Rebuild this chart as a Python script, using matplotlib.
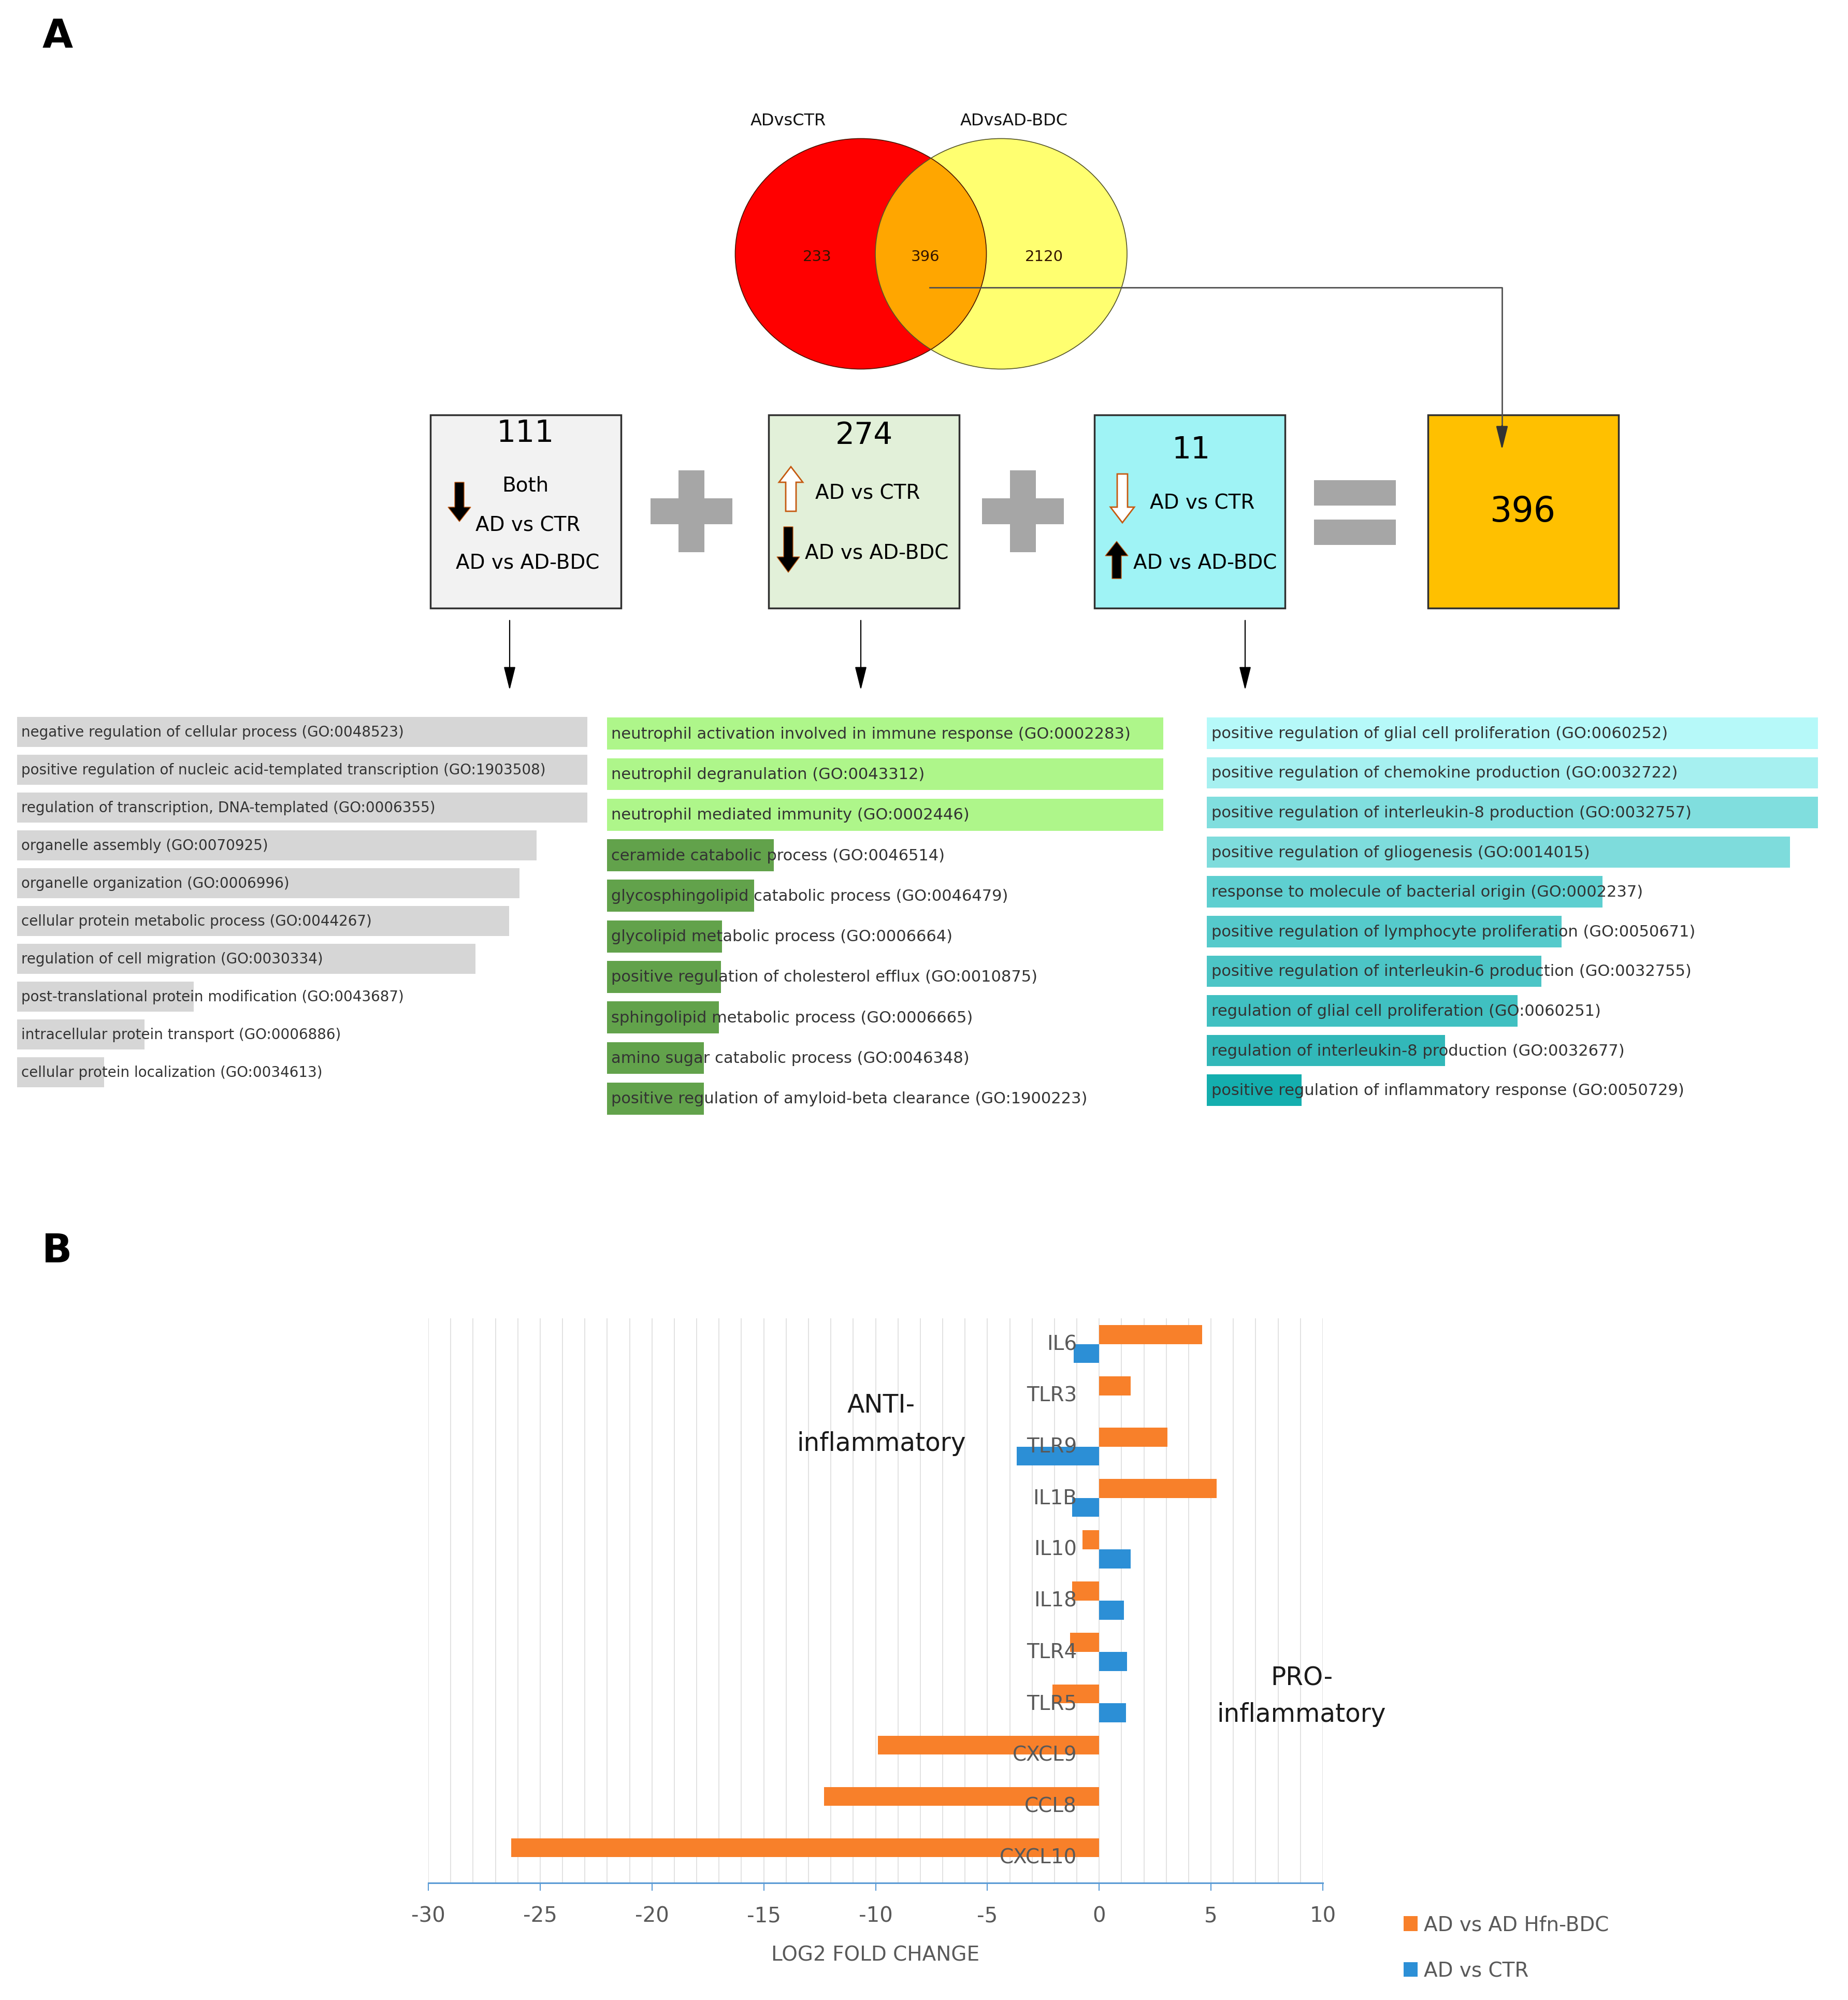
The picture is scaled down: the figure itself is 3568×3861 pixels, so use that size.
import numpy as np
import matplotlib
matplotlib.use("Agg")
import matplotlib.pyplot as plt
from matplotlib.patches import Ellipse, Rectangle, FancyArrow

plt.rcParams["axes.unicode_minus"] = False

W, H = 3568, 3862

# Venn diagram
venn_sets = ["ADvsCTR", "ADvsAD-BDC"]
venn_counts = [233, 396, 2120]

# summary boxes
box_counts = [111, 274, 11]
box_total = 396

# GO terms for each group (bar length relative to top term)
go_both = [
    "negative regulation of cellular process (GO:0048523)",
    "positive regulation of nucleic acid-templated transcription (GO:1903508)",
    "regulation of transcription, DNA-templated (GO:0006355)",
    "organelle assembly (GO:0070925)",
    "organelle organization (GO:0006996)",
    "cellular protein metabolic process (GO:0044267)",
    "regulation of cell migration (GO:0030334)",
    "post-translational protein modification (GO:0043687)",
    "intracellular protein transport (GO:0006886)",
    "cellular protein localization (GO:0034613)",
]
go_both_len = [1.0, 1.0, 1.0, 0.911, 0.881, 0.863, 0.804, 0.310, 0.224, 0.153]

go_up = [
    "neutrophil activation involved in immune response (GO:0002283)",
    "neutrophil degranulation (GO:0043312)",
    "neutrophil mediated immunity (GO:0002446)",
    "ceramide catabolic process (GO:0046514)",
    "glycosphingolipid catabolic process (GO:0046479)",
    "glycolipid metabolic process (GO:0006664)",
    "positive regulation of cholesterol efflux (GO:0010875)",
    "sphingolipid metabolic process (GO:0006665)",
    "amino sugar catabolic process (GO:0046348)",
    "positive regulation of amyloid-beta clearance (GO:1900223)",
]
go_up_len = [1.0, 1.0, 1.0, 0.300, 0.265, 0.207, 0.205, 0.201, 0.174, 0.174]

go_down = [
    "positive regulation of glial cell proliferation (GO:0060252)",
    "positive regulation of chemokine production (GO:0032722)",
    "positive regulation of interleukin-8 production (GO:0032757)",
    "positive regulation of gliogenesis (GO:0014015)",
    "response to molecule of bacterial origin (GO:0002237)",
    "positive regulation of lymphocyte proliferation (GO:0050671)",
    "positive regulation of interleukin-6 production (GO:0032755)",
    "regulation of glial cell proliferation (GO:0060251)",
    "regulation of interleukin-8 production (GO:0032677)",
    "positive regulation of inflammatory response (GO:0050729)",
]
go_down_len = [1.0, 1.0, 1.0, 0.954, 0.648, 0.581, 0.548, 0.509, 0.390, 0.155]

# panel B: log2 fold change
genes = ["IL6", "TLR3", "TLR9", "IL1B", "IL10", "IL18", "TLR4", "TLR5", "CXCL9", "CCL8", "CXCL10"]
fc_bdc = [4.6, 1.4, 3.05, 5.25, -0.75, -1.2, -1.3, -2.1, -9.9, -12.3, -26.3]
fc_ctr = [-1.15, 0, -3.7, -1.2, 1.4, 1.1, 1.25, 1.2, 0, 0, 0]

fig = plt.figure(figsize=(W / 100, H / 100), dpi=100)

# base layer in pixel units for the diagram part
base = fig.add_axes([0, 0, 1, 1])
base.set_xlim(0, W)
base.set_ylim(H, 0)
base.axis("off")

base.text(111, 71, "A", fontsize=55, fontweight="bold", ha="center", va="center")
base.text(110, 2416, "B", fontsize=55, fontweight="bold", ha="center", va="center")

# --- Venn ---
red = Ellipse((1662, 491), 485, 445, fc="#FF0000", ec="none")
yel = Ellipse((1933, 491), 486, 445, fc="#FFFF70", ec="none")
base.add_patch(red)
base.add_patch(yel)
ov = Ellipse((1933, 491), 486, 445, fc="#FFA600", ec="none")
base.add_patch(ov)
ov.set_clip_path(red)
base.add_patch(Ellipse((1662, 491), 485, 445, fc="none", ec="#4a1500", lw=1.2))
base.add_patch(Ellipse((1933, 491), 486, 445, fc="none", ec="#55552a", lw=1.2))

base.text(1522, 233, venn_sets[0], fontsize=23, ha="center", va="center", color="#111111")
base.text(1958, 233, venn_sets[1], fontsize=23, ha="center", va="center", color="#111111")
for x, n in zip([1578, 1787, 2016], venn_counts):
    base.text(x, 496, str(n), fontsize=21, ha="center", va="center", color="#331500")

# connector from the intersection to the total box
base.plot([1795, 2900, 2900], [556, 556, 840], color="#505050", lw=2)
base.annotate("", xy=(2900, 872), xytext=(2900, 820),
              arrowprops=dict(arrowstyle="-|>,head_length=1.4,head_width=0.35",
                              color="#333333", lw=2, mutation_scale=20))

# --- boxes ---
box_x = [831, 1484, 2113, 2757]
box_fc = ["#F2F2F2", "#E2F0D9", "#9FF3F5", "#FFC000"]
for x0, fc in zip(box_x, box_fc):
    base.add_patch(Rectangle((x0, 802), 368, 373, fc=fc, ec="#303030", lw=2.5))

fs_box = 28
# box 1
base.text(1014, 836, str(box_counts[0]), fontsize=42, ha="center", va="center")
base.text(1014, 937, "Both", fontsize=fs_box, ha="center", va="center")
base.add_patch(FancyArrow(887, 932, 0, 76, width=18, head_width=44, head_length=28,
                          length_includes_head=True, fc="black", ec="#C55A11", lw=1))
base.text(1019, 1014, "AD vs CTR", fontsize=fs_box, ha="center", va="center")
base.text(1019, 1087, "AD vs AD-BDC", fontsize=fs_box, ha="center", va="center")
# box 2
base.text(1668, 840, str(box_counts[1]), fontsize=42, ha="center", va="center")
base.add_patch(FancyArrow(1527, 988, 0, -86, width=20, head_width=46, head_length=30,
                          length_includes_head=True, fc="white", ec="#C55A11", lw=2))
base.text(1675, 952, "AD vs CTR", fontsize=fs_box, ha="center", va="center")
base.add_patch(FancyArrow(1522, 1018, 0, 88, width=18, head_width=44, head_length=30,
                          length_includes_head=True, fc="black", ec="#C55A11", lw=1))
base.text(1693, 1068, "AD vs AD-BDC", fontsize=fs_box, ha="center", va="center")
# box 3
base.text(2300, 868, str(box_counts[2]), fontsize=42, ha="center", va="center")
base.add_patch(FancyArrow(2167, 916, 0, 94, width=20, head_width=46, head_length=30,
                          length_includes_head=True, fc="white", ec="#C55A11", lw=2))
base.text(2321, 971, "AD vs CTR", fontsize=fs_box, ha="center", va="center")
base.add_patch(FancyArrow(2156, 1118, 0, -72, width=18, head_width=44, head_length=28,
                          length_includes_head=True, fc="black", ec="#C55A11", lw=1))
base.text(2327, 1087, "AD vs AD-BDC", fontsize=fs_box, ha="center", va="center")
# box 4
base.text(2940, 988, str(box_total), fontsize=48, ha="center", va="center")

# plus and equals signs
sign_c = "#A6A6A6"
for cx in [1335, 1975]:
    base.add_patch(Rectangle((cx - 25, 909), 50, 158, fc=sign_c, ec="none"))
    base.add_patch(Rectangle((cx - 79, 963), 158, 50, fc=sign_c, ec="none"))
base.add_patch(Rectangle((2537, 928), 158, 49, fc=sign_c, ec="none"))
base.add_patch(Rectangle((2537, 1004), 158, 49, fc=sign_c, ec="none"))

# arrows down to GO lists
for x in [984, 1662, 2404]:
    base.annotate("", xy=(x, 1336), xytext=(x, 1196),
                  arrowprops=dict(arrowstyle="-|>,head_length=1.4,head_width=0.35",
                                  color="black", lw=1.6, mutation_scale=20))


def go_panel(x0, y0, w, y1, terms, lengths, colors, fs):
    ax = fig.add_axes([x0 / W, 1 - y1 / H, w / W, (y1 - y0) / H])
    y = np.arange(len(terms))
    ax.barh(y, lengths, height=0.79, color=colors)
    for yi, t in zip(y, terms):
        ax.text(0.008, yi, t, ha="left", va="center", fontsize=fs, color="#333333")
    ax.set_xlim(0, 1)
    ax.set_ylim(len(terms) - 0.5, -0.5)
    ax.axis("off")
    return ax


go_panel(32.5, 1377.5, 1101.5, 2107.5, go_both, go_both_len, "#D6D6D6", 20)
go_panel(1171.6, 1378, 1074.4, 2161, go_up, go_up_len,
         ["#AEF68A"] * 3 + ["#62A24B"] * 7, 22)
go_panel(2329.6, 1378, 1180.4, 2144, go_down, go_down_len,
         ["#B6F9F9", "#A6F0F0", "#80DEDE", "#7EDCDC", "#5ECFD0",
          "#55CACB", "#4CC5C6", "#40C0C1", "#32B8B9", "#14AEAE"], 22)

# --- panel B ---
axb = fig.add_axes([827 / W, 1 - 3636 / H, 1727 / W, 1090 / H])
y = np.arange(len(genes))
h_bdc = axb.barh(y - 0.185, fc_bdc, height=0.37, color="#F8802A")
h_ctr = axb.barh(y + 0.185, fc_ctr, height=0.37, color="#2C8FD6")
axb.set_xlim(-30, 10)
axb.set_ylim(len(genes) - 0.5, -0.5)
axb.set_xticks(np.arange(-30, 11, 5))
axb.set_xticks(np.arange(-30, 11, 1), minor=True)
axb.grid(axis="x", which="both", color="#DDDDDD", lw=1.2)
axb.set_axisbelow(True)
for s in ["top", "left", "right"]:
    axb.spines[s].set_visible(False)
axb.spines["bottom"].set_color("#5B9BD5")
axb.spines["bottom"].set_linewidth(2.2)
axb.tick_params(axis="x", which="major", length=11, width=1.5, color="#5B9BD5",
                labelsize=29, labelcolor="#595959", pad=20)
axb.tick_params(axis="x", which="minor", length=0)
axb.set_yticks([])
for yi, g in zip(y, genes):
    axb.text(-1.0, yi, g, ha="right", va="center", fontsize=28, color="#595959")

axb.text(-9.75, 1.19, "ANTI-", ha="center", va="center", fontsize=35, color="#1a1a1a")
axb.text(-9.75, 1.93, "inflammatory", ha="center", va="center", fontsize=35, color="#1a1a1a")
axb.text(9.05, 6.50, "PRO-", ha="center", va="center", fontsize=35, color="#1a1a1a")
axb.text(9.05, 7.21, "inflammatory", ha="center", va="center", fontsize=35, color="#1a1a1a")

axb.set_xlabel("LOG2 FOLD CHANGE", fontsize=28, color="#595959")
axb.xaxis.set_label_coords(0.5, -0.1275)
axb.xaxis.label.set_va("center")

axb.legend([h_bdc, h_ctr], ["AD vs AD Hfn-BDC", "AD vs CTR"], loc="upper left",
           bbox_to_anchor=(2710 / W, 1 - 3698 / H), bbox_transform=fig.transFigure,
           frameon=False, fontsize=28, labelcolor="#595959", handlelength=0.7,
           handleheight=0.75, handletextpad=0.3, labelspacing=1.3,
           borderpad=0, borderaxespad=0)

fig.savefig("out.png", dpi=100)
